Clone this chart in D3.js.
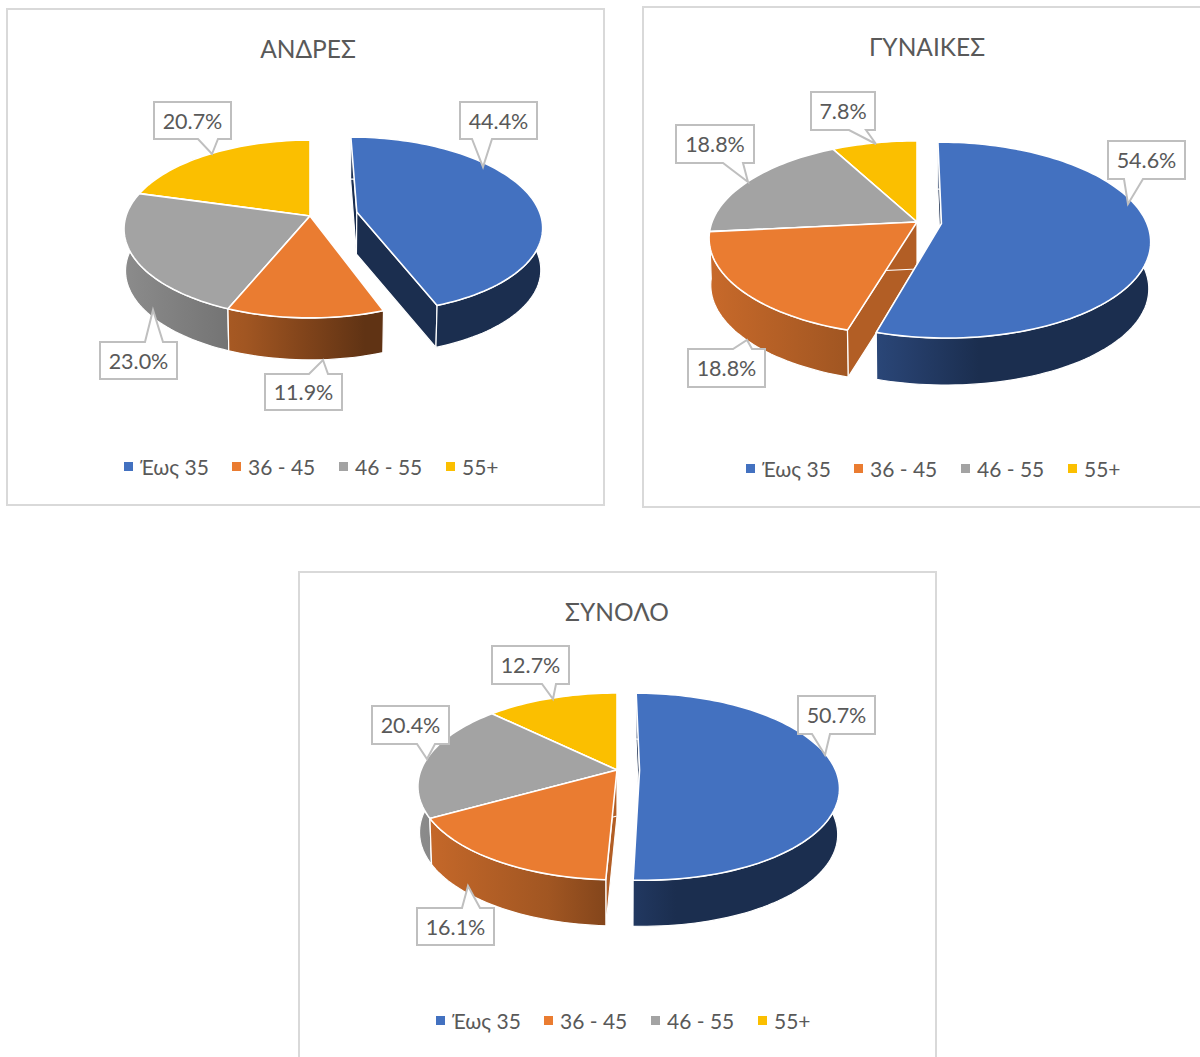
<!DOCTYPE html>
<html>
<head>
<meta charset="utf-8">
<script src="https://cdn.jsdelivr.net/npm/d3@7"></script>
<style>
    body { margin: 0; background: #fff; }
    text { font-family: Lato, "Open Sans", sans-serif; fill: #595959; }
</style>
</head>
<body>
<div id="charts"></div>
<script>
//Chart data
const ageGroups = ["Έως 35", "36 - 45", "46 - 55", "55+"];
const sliceColors = ["#4371C0", "#EA7C31", "#A3A3A3", "#FBBF00"];
const menValues = [44.4, 11.9, 23.0, 20.7];
const womenValues = [54.6, 18.8, 18.8, 7.8];
const totalValues = [50.7, 16.1, 20.4, 12.7];

//Layout of each panel, kept apart from the values
const panels = [
    {
        key: "men", title: "ΑΝΔΡΕΣ", values: menValues,
        box: [7, 9, 597, 496], titlePos: [308, 57.5],
        cx: 310, cy: 216, R: 184, k: 0.146, tilt: 0.473, depth: 42, explode: 0.26,
        legendX: 124, legendY: 475,
        // x0, x1, y0, y1, pointer base a, pointer base b, tip x, tip y
        callouts: [
            [460, 537, 102, 139, 472, 492, 483, 167],
            [265, 342, 374, 410, 309, 328, 323, 360],
            [100, 177, 342, 379, 145, 163, 153, 310],
            [154, 231, 102, 139, 198, 218, 212, 154]
        ]
    },
    {
        key: "women", title: "ΓΥΝΑΙΚΕΣ", values: womenValues,
        box: [643, 7, 600, 500], titlePos: [927, 55.5],
        cx: 917, cy: 222, R: 205, k: 0.167, tilt: 0.462, depth: 47, explode: 0.12,
        legendX: 746, legendY: 477,
        callouts: [
            [1108, 1185, 141, 179, 1124, 1143, 1128, 204],
            [688, 765, 349, 387, 733, 752, 747, 340],
            [676, 754, 125, 163, 723, 743, 748, 182],
            [811, 875, 92, 130, 849, 866, 876, 144]
        ]
    },
    {
        key: "total", title: "ΣΥΝΟΛΟ", values: totalValues,
        box: [299, 572, 637, 520], titlePos: [617, 620.5],
        cx: 617, cy: 770, R: 196, k: 0.176, tilt: 0.462, depth: 46, explode: 0.115,
        legendX: 436, legendY: 1029,
        callouts: [
            [798, 875, 696, 734, 812, 830, 825, 755],
            [417, 494, 908, 945, 462, 480, 468, 886],
            [372, 449, 706, 744, 417, 435, 427, 759],
            [492, 569, 646, 684, 542, 556, 553, 699]
        ]
    }
];

const legendSteps = [0, 108, 215, 322];
const wallShade = [0.41, 0.76, 0.7, 0.7];

//Rim shading, darker towards the right of the pie
const rimShade = d3.scaleLinear()
    .domain([-1, -0.35, -0.05, 0.3, 1])
    .range([0.85, 0.69, 0.56, 0.41, 0.41])
    .clamp(true);

const colorScale = d3.scaleOrdinal().domain(ageGroups).range(sliceColors);
const pie = d3.pie().sort(null);
const fmt = d3.format(".1f");

const svg = d3.select("#charts").append("svg")
    .attr("width", 1200)
    .attr("height", 1057)
    .style("display", "block");
const defs = svg.append("defs");

function shaded(color, f)
{
    let c = d3.rgb(color);
    return d3.rgb(c.r*f, c.g*f, c.b*f).formatHex();
}

function drawPanel(p)
{
    let g = svg.append("g").attr("id", p.key);

    g.append("rect")
        .attr("x", p.box[0])
        .attr("y", p.box[1])
        .attr("width", p.box[2])
        .attr("height", p.box[3])
        .attr("fill", "#fff")
        .attr("stroke", "#d9d9d9")
        .attr("stroke-width", 2);

    g.append("text")
        .attr("x", p.titlePos[0])
        .attr("y", p.titlePos[1])
        .attr("text-anchor", "middle")
        .attr("font-size", 24.5)
        .text(p.title);

    //Perspective view of the unit disc, z = 1 is the underside
    function project(u, v, z)
    {
        let w = 1 - p.k*v;
        return [p.cx + p.R*u/(w + 0.008*z), p.cy + p.R*p.tilt*v/w + p.depth*z];
    }

    let line = d3.line();

    let slices = pie(p.values).map((d, i) =>
    {
        let mid = (d.startAngle + d.endAngle)/2;
        let e = i == 0 ? p.explode : 0;
        let ox = e*Math.sin(mid);
        let oy = -e*Math.cos(mid);
        let n = Math.ceil((d.endAngle - d.startAngle)/0.03);
        let angles = d3.range(n + 1).map(j => d.startAngle + (d.endAngle - d.startAngle)*j/n);
        let rim = z => angles.map(a => project(ox + Math.sin(a), oy - Math.cos(a), z));
        return {
            i: i,
            name: ageGroups[i],
            exploded: e > 0,
            depthKey: -Math.cos(mid),
            apex: z => project(ox, oy, z),
            rim: rim
        };
    });

    //Back to front, the pulled out slice last
    slices.sort((a, b) => d3.ascending(a.exploded, b.exploded) || d3.ascending(a.depthKey, b.depthKey));

    slices.forEach(s =>
    {
        let color = colorScale(s.name);
        let gradId = "rim-" + p.key + "-" + s.i;
        let grad = defs.append("linearGradient")
            .attr("id", gradId)
            .attr("gradientUnits", "userSpaceOnUse")
            .attr("x1", p.cx - p.R)
            .attr("x2", p.cx + p.R)
            .attr("y1", 0)
            .attr("y2", 0);
        rimShade.domain().forEach(t =>
        {
            grad.append("stop")
                .attr("offset", (t + 1)/2)
                .attr("stop-color", shaded(color, rimShade(t)));
        });

        let top = s.rim(0);
        let bottom = s.rim(1);
        let wall = shaded(color, wallShade[s.i]);
        let sg = g.append("g").attr("class", "slice");

        //Cut faces
        [0, top.length - 1].forEach(j =>
        {
            sg.append("path")
                .attr("d", line([s.apex(0), top[j], bottom[j], s.apex(1)]) + "Z")
                .attr("fill", wall)
                .attr("stroke", "#fff")
                .attr("stroke-width", 1.2)
                .attr("stroke-linejoin", "round");
        });

        //Outer rim
        sg.append("path")
            .attr("d", line(top.concat(bottom.slice().reverse())) + "Z")
            .attr("fill", "url(#" + gradId + ")")
            .attr("stroke", "#fff")
            .attr("stroke-width", 1.2)
            .attr("stroke-linejoin", "round");

        //Top face
        sg.append("path")
            .attr("d", line([s.apex(0)].concat(top)) + "Z")
            .attr("fill", color)
            .attr("stroke", "#fff")
            .attr("stroke-width", 1.6)
            .attr("stroke-linejoin", "round");
    });

    //Callouts
    let callouts = g.append("g").attr("class", "callouts");
    p.callouts.forEach((c, i) =>
    {
        let [x0, x1, y0, y1, a, b, tx, ty] = c;
        let pts;
        if (ty < y0)
        {
            pts = [[x0, y0], [a, y0], [tx, ty], [b, y0], [x1, y0], [x1, y1], [x0, y1]];
        }
        else
        {
            pts = [[x0, y0], [x1, y0], [x1, y1], [b, y1], [tx, ty], [a, y1], [x0, y1]];
        }
        callouts.append("path")
            .attr("d", line(pts) + "Z")
            .attr("fill", "#fff")
            .attr("stroke", "#bfbfbf")
            .attr("stroke-width", 2);
        callouts.append("text")
            .attr("x", (x0 + x1)/2)
            .attr("y", (y0 + y1)/2 + 8)
            .attr("text-anchor", "middle")
            .attr("font-size", 21.5)
            .text(fmt(p.values[i]) + "%");
    });

    //Legend
    let legend = g.append("g").attr("class", "legend");
    ageGroups.forEach((name, i) =>
    {
        let x = p.legendX + legendSteps[i];
        legend.append("rect")
            .attr("x", x)
            .attr("y", p.legendY - 13)
            .attr("width", 9)
            .attr("height", 9)
            .attr("fill", colorScale(name));
        legend.append("text")
            .attr("x", x + 16)
            .attr("y", p.legendY)
            .attr("font-size", 21)
            .text(name);
    });
}

panels.forEach(drawPanel);
</script>
</body>
</html>
